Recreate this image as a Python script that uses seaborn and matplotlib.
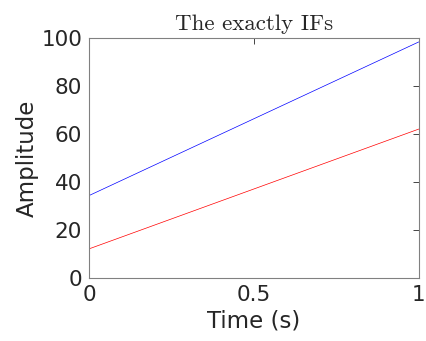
import pandas as pd
import numpy as np
import matplotlib
matplotlib.use('Agg')
import matplotlib.pyplot as plt
import seaborn as sns

# --- datos ---
time_s = [0.0, 1.0]
if_blue = [34.3, 98.3]
if_red = [12.1, 62.0]

sns.set_style('white')
plt.rcParams['font.family'] = ['DejaVu Sans']

df = pd.DataFrame({'t': time_s * 2,
                   'amp': if_blue + if_red,
                   'serie': ['IF1'] * 2 + ['IF2'] * 2})

fig = plt.figure(figsize=(4.26, 3.41), dpi=100)
ax = fig.add_axes([0.209, 0.185, 0.774, 0.704])

sns.lineplot(data=df, x='t', y='amp', hue='serie', palette=['#0000ff', '#ff0000'],
             linewidth=0.5, legend=False, ax=ax)

ax.set_xlim(0, 1)
ax.set_ylim(0, 100)
ax.set_xticks([0, 0.5, 1])
ax.set_xticklabels(['0', '0.5', '1'])
ax.set_yticks([0, 20, 40, 60, 80, 100])
ax.tick_params(direction='in', length=4, width=0.6, color='#262626',
               labelsize=15.5, labelcolor='#262626', top=True, right=True, pad=5)
for s in ax.spines.values():
    s.set_color('#808080')
    s.set_linewidth(0.8)
    s.set_visible(True)

ax.set_xlabel('Time (s)', fontsize=16.5, color='#262626', labelpad=3)
ax.set_ylabel('Amplitude', fontsize=16.5, color='#262626', labelpad=2)
ax.set_title('The exactly IFs', fontsize=16.5, fontfamily='cmr10', pad=6)

fig.savefig('out.png', dpi=100)
